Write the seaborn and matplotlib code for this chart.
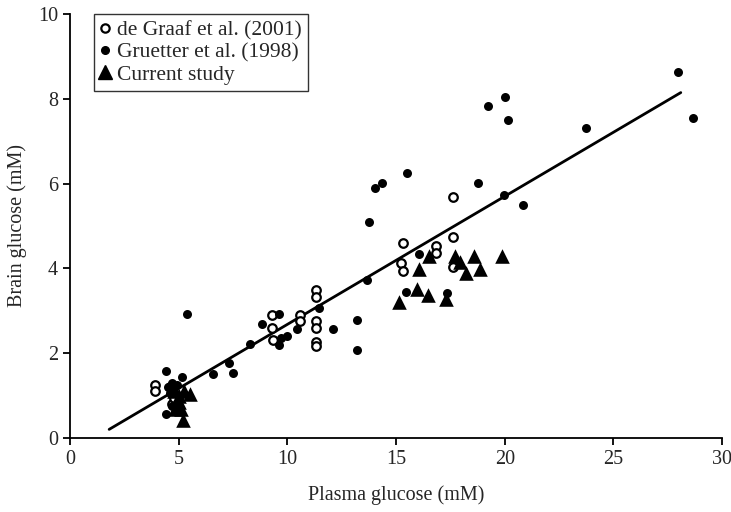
import numpy as np
import pandas as pd
import matplotlib
matplotlib.use("Agg")
import matplotlib.pyplot as plt
import seaborn as sns
from matplotlib.lines import Line2D

# de Graaf et al. (2001) - open circles
degraaf_x = [3.9, 3.9, 4.6, 4.7, 4.8, 9.3, 9.3, 9.35, 10.6, 10.6,
             11.3, 11.3, 11.3, 11.3, 11.3, 11.3, 15.3, 15.25, 15.3,
             16.85, 16.85, 17.6, 17.6, 17.6]
degraaf_y = [1.25, 1.11, 1.2, 0.8, 0.95, 2.9, 2.6, 2.3, 2.9, 2.75,
             3.48, 3.32, 2.77, 2.6, 2.26, 2.16, 4.61, 4.13, 3.95,
             4.53, 4.37, 4.73, 4.04, 5.69]

# Gruetter et al. (1998) - filled circles
gruetter_x = [4.4, 5.15, 5.4, 4.4, 4.5, 4.7, 4.9, 4.6, 4.8, 4.7,
              6.6, 7.3, 7.5, 8.3, 8.85, 9.6, 9.6, 9.7, 10.0, 10.45,
              11.45, 12.1, 13.2, 13.2, 13.65, 13.75, 14.05, 14.35, 15.5, 15.45,
              16.05, 17.35, 18.75, 19.25, 20.0, 20.15, 19.95, 20.85, 23.75, 27.95,
              28.65]
gruetter_y = [1.59, 1.43, 2.93, 0.57, 1.2, 1.3, 1.25, 1.05, 1.1, 0.75,
              1.51, 1.76, 1.53, 2.22, 2.7, 2.93, 2.2, 2.35, 2.41, 2.57,
              3.06, 2.56, 2.79, 2.07, 3.73, 5.09, 5.89, 6.02, 6.24, 3.44,
              4.33, 3.42, 6.02, 7.83, 8.05, 7.5, 5.73, 5.5, 7.32, 8.64,
              7.55]

# Current study - triangles
current_x = [4.8, 5.0, 5.1, 4.85, 5.2, 5.5, 5.25, 5.0,
             15.15, 15.95, 16.45, 17.3, 16.05, 16.52, 17.72, 17.95,
             18.23, 18.6, 18.85, 19.88]
current_y = [1.1, 0.85, 0.68, 0.68, 0.43, 1.03, 1.1, 1.0,
             3.21, 3.51, 3.38, 3.27, 3.99, 4.29, 4.29, 4.15,
             3.89, 4.29, 3.99, 4.29]

# regression line
fit_slope = 0.302
fit_intercept = -0.34
fit_range = [1.8, 28.1]

sns.set_theme(style="ticks")
plt.rcParams['font.family'] = ['Liberation Serif', 'DejaVu Serif']

fig = plt.figure(figsize=(7.31, 5.12), dpi=100)
ax = fig.add_axes([0.0958, 0.1445, 0.892, 0.8282])

sns.scatterplot(x=degraaf_x, y=degraaf_y, ax=ax, marker='o', s=38,
                facecolor='white', edgecolor='black', linewidth=1.6, zorder=3)
sns.scatterplot(x=gruetter_x, y=gruetter_y, ax=ax, marker='o', s=42,
                color='black', edgecolor='black', linewidth=0, zorder=3)
sns.scatterplot(x=current_x, y=current_y, ax=ax, marker='^', s=110,
                color='black', edgecolor='black', linewidth=0, zorder=4)

line_x = np.array(fit_range)
ax.plot(line_x, fit_slope * line_x + fit_intercept, color='black', lw=2, zorder=2)

ax.set_xlim(0, 30)
ax.set_ylim(0, 10)
ax.set_xticks(range(0, 31, 5))
ax.set_yticks(range(0, 11, 2))
ax.tick_params(labelsize=14.5, length=5, width=1.3, color='black', direction='out')
for side in ['left', 'bottom']:
    ax.spines[side].set_linewidth(1.3)
    ax.spines[side].set_color('black')
sns.despine(ax=ax)

ax.set_xlabel('Plasma glucose (mM)', fontsize=14.5, labelpad=12)
ax.set_ylabel('Brain glucose (mM)', fontsize=14.5, labelpad=8)

handles = [
    Line2D([], [], ls='none', marker='o', ms=6, mfc='white', mec='black', mew=1.6),
    Line2D([], [], ls='none', marker='o', ms=5.5, mfc='black', mec='black'),
    Line2D([], [], ls='none', marker='^', ms=9.5, mfc='black', mec='black'),
]
labels = ['de Graaf et al. (2001)', 'Gruetter et al. (1998)', 'Current study']
leg = ax.legend(handles, labels, loc='upper left', bbox_to_anchor=(0.036, 1.0),
                fontsize=15.5, frameon=True, fancybox=False, edgecolor='black',
                handlelength=0.5, handletextpad=0.3, borderpad=0.3,
                labelspacing=0.1, borderaxespad=0)
leg.get_frame().set_linewidth(1.0)

fig.savefig('out.png', dpi=100)
